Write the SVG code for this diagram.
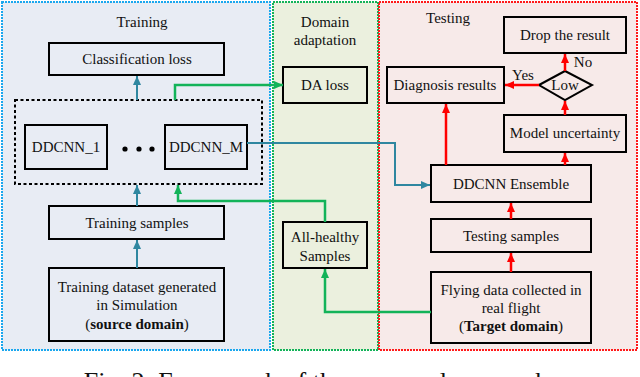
<svg xmlns="http://www.w3.org/2000/svg" width="640" height="377" viewBox="0 0 640 377">
<style>
text{font-family:"Liberation Serif","Times New Roman",serif;font-size:15px;fill:#111;text-anchor:middle}
.box{fill:none;stroke:#000;stroke-width:2}
.teal{fill:none;stroke:#2f87a0;stroke-width:2}
.green{fill:none;stroke:#13b359;stroke-width:2.5}
.red{fill:none;stroke:#ff0000;stroke-width:2.5}
.b{font-weight:bold}
</style>
<defs>
<marker id="mt" markerUnits="userSpaceOnUse" markerWidth="10" markerHeight="10" refX="9" refY="5" orient="auto"><path d="M0,1 L9,5 L0,9 Z" fill="#2f87a0"/></marker>
<marker id="mg" markerUnits="userSpaceOnUse" markerWidth="10" markerHeight="10" refX="9" refY="5" orient="auto"><path d="M0,1 L9,5 L0,9 Z" fill="#13b359"/></marker>
<marker id="mr" markerUnits="userSpaceOnUse" markerWidth="10" markerHeight="10" refX="9" refY="5" orient="auto"><path d="M0,1 L9,5 L0,9 Z" fill="#ff0000"/></marker>
</defs>
<rect width="640" height="377" fill="#fff"/>
<g id="panel-training">
<rect x="2" y="2" width="268" height="348" fill="#e8ecf4" stroke="#1aa7ee" stroke-width="2" stroke-dasharray="2 1"/>
<text x="142" y="27">Training</text>
</g>
<g id="panel-da">
<rect x="273" y="2" width="105" height="348" fill="#ebf0de" stroke="#13b359" stroke-width="2" stroke-dasharray="2 1"/>
<text x="325" y="27">Domain</text>
<text x="325" y="45">adaptation</text>
</g>
<g id="panel-testing">
<rect x="379" y="2" width="258" height="348" fill="#f7eae9" stroke="#ff1a1a" stroke-width="2" stroke-dasharray="2 1"/>
<text x="448" y="23">Testing</text>
</g>
<g id="classification-loss"><rect class="box" x="49" y="43" width="175" height="32"/><text x="137" y="64">Classification loss</text></g>
<g id="ensemble-group"><rect x="15" y="100" width="247" height="84" fill="none" stroke="#000" stroke-width="2" stroke-dasharray="3 2.5"/></g>
<g id="ddcnn-1"><rect class="box" x="25" y="125" width="82" height="44"/><text x="66" y="152">DDCNN_1</text></g>
<g id="dots"><circle cx="125" cy="149" r="2.6" fill="#000"/><circle cx="139" cy="149" r="2.6" fill="#000"/><circle cx="152" cy="149" r="2.6" fill="#000"/></g>
<g id="ddcnn-m"><rect class="box" x="165" y="125" width="82" height="44"/><text x="206" y="152">DDCNN_M</text></g>
<g id="training-samples"><rect class="box" x="49" y="206" width="175" height="33"/><text x="137" y="228">Training samples</text></g>
<g id="training-dataset"><rect class="box" x="49" y="268" width="175" height="73"/><text x="137" y="292">Training dataset generated</text><text x="137" y="310">in Simulation</text><text x="137" y="329">(<tspan class="b">source domain</tspan>)</text></g>
<g id="da-loss"><rect class="box" x="283" y="67" width="84" height="36"/><text x="325" y="90">DA loss</text></g>
<g id="all-healthy"><rect class="box" x="283" y="222" width="84" height="46"/><text x="325" y="242">All-healthy</text><text x="325" y="261">Samples</text></g>
<g id="drop-result"><rect class="box" x="504" y="17" width="122" height="36"/><text x="565" y="40">Drop the result</text></g>
<g id="diagnosis-results"><rect class="box" x="387" y="67" width="117" height="36"/><text x="445" y="90">Diagnosis results</text></g>
<g id="low"><path class="box" d="M539,85 L565,71 L592,85 L565,100 Z"/><text x="565" y="90">Low</text></g>
<g id="model-uncertainty"><rect class="box" x="504" y="115" width="122" height="37"/><text x="565" y="138">Model uncertainty</text></g>
<g id="ddcnn-ensemble"><rect class="box" x="431" y="165" width="160" height="37"/><text x="511" y="189">DDCNN Ensemble</text></g>
<g id="testing-samples"><rect class="box" x="431" y="219" width="160" height="33"/><text x="511" y="241">Testing samples</text></g>
<g id="flying-data"><rect class="box" x="431" y="272" width="160" height="71"/><text x="511" y="295">Flying data collected in</text><text x="511" y="313">real flight</text><text x="511" y="331">(<tspan class="b">Target domain</tspan>)</text></g>
<g id="connectors">
<path class="teal" marker-end="url(#mt)" d="M137,100 V76"/>
<path class="teal" marker-end="url(#mt)" d="M137,206 V185"/>
<path class="teal" marker-end="url(#mt)" d="M137,268 V240"/>
<path class="teal" marker-end="url(#mt)" d="M247,143 H395 V185 H430"/>
<path class="green" marker-end="url(#mg)" d="M175,100 V85 H283"/>
<path class="green" marker-end="url(#mg)" d="M325,222 V201 H178 V185"/>
<path class="green" marker-end="url(#mg)" d="M431,312 H325 V269"/>
<path class="red" marker-end="url(#mr)" d="M511,272 V253"/>
<path class="red" marker-end="url(#mr)" d="M511,219 V203"/>
<path class="red" marker-end="url(#mr)" d="M446,165 V104"/>
<path class="red" marker-end="url(#mr)" d="M565,165 V153"/>
<path class="red" marker-end="url(#mr)" d="M565,115 V101"/>
<path class="red" marker-end="url(#mr)" d="M565,71 V54"/>
<path class="red" marker-end="url(#mr)" d="M539,85 H505"/>
<text x="583" y="67">No</text>
<text x="523" y="80">Yes</text>
</g>
<text x="316" y="390" style="font-size:26px">Fig. 2: Framework of the proposed approach</text>
</svg>
